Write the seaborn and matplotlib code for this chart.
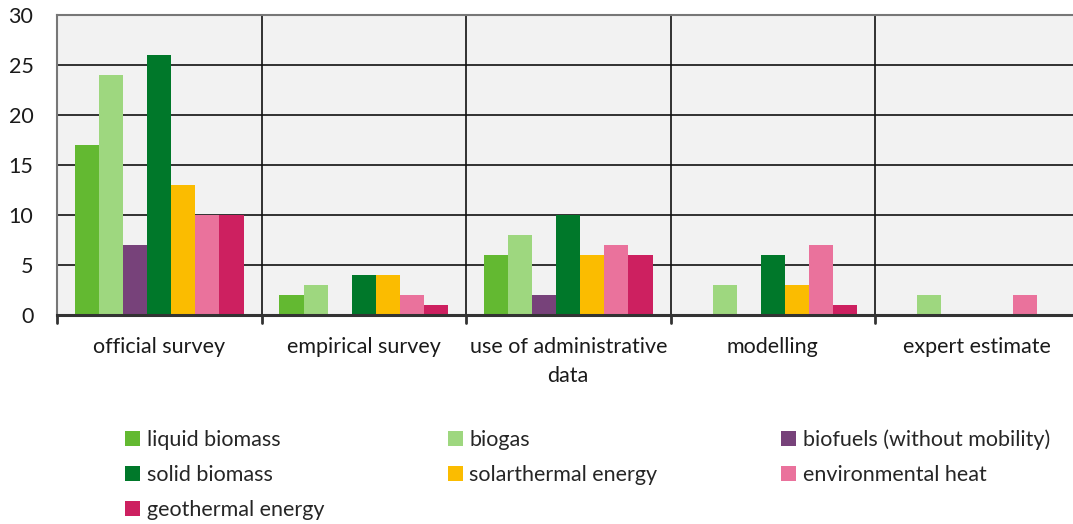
import matplotlib
matplotlib.use("Agg")
import matplotlib.pyplot as plt
import seaborn as sns
import pandas as pd
import numpy as np
from matplotlib.patches import Patch

categories = ["official survey", "empirical survey", "use of administrative\ndata", "modelling", "expert estimate"]
series = ["liquid biomass", "biogas", "biofuels (without mobility)", "solid biomass",
          "solarthermal energy", "environmental heat", "geothermal energy"]
liquid_biomass = [17, 2, 6, 0, 0]
biogas = [24, 3, 8, 3, 2]
biofuels = [7, 0, 2, 0, 0]
solid_biomass = [26, 4, 10, 6, 0]
solarthermal = [13, 4, 6, 3, 0]
environmental_heat = [10, 2, 7, 7, 2]
geothermal = [10, 1, 6, 1, 0]
colors = ["#63b931", "#9ed77f", "#77427a", "#00782a", "#fbbc00", "#ea729c", "#cd2060"]
yticks = [0, 5, 10, 15, 20, 25, 30]

values = [liquid_biomass, biogas, biofuels, solid_biomass, solarthermal, environmental_heat, geothermal]
rows = []
for s, vals in zip(series, values):
    for c, v in zip(categories, vals):
        rows.append({"category": c, "series": s, "value": v})
df = pd.DataFrame(rows)

sns.set_style("white")
plt.rcParams["font.family"] = ["Lato", "DejaVu Sans"]
FS = 15.5

fig = plt.figure(figsize=(10.73, 5.24), dpi=100)
ax = fig.add_axes([57 / 1073, 1 - 315 / 524, (1079.5 - 57) / 1073, 300 / 524])
ax.set_facecolor("#f2f2f2")

sns.barplot(data=df, x="category", y="value", hue="series", hue_order=series,
            order=categories, palette=colors, width=0.824, linewidth=0,
            saturation=1, ax=ax, legend=False, zorder=3)

ax.set_ylim(0, 30)
ax.set_xlim(-0.5, len(categories) - 0.5)
ax.set_yticks(yticks)
ax.set_yticklabels([str(t) for t in yticks], fontsize=FS, color="#1a1a1a")
ax.set_xticks(np.arange(len(categories)))
ax.set_xticklabels(categories, fontsize=FS, color="#1a1a1a", linespacing=1.55)
ax.set_xlabel("")
ax.set_ylabel("")

# horizontal gridlines
for t in yticks[1:]:
    ax.axhline(t, color="#111111", lw=1.2, zorder=1)
# category separators
for b in np.arange(0.5, len(categories) - 0.5, 1):
    ax.axvline(b, color="#111111", lw=1.2, zorder=1)
    ax.plot([b, b], [0, -0.025], transform=ax.get_xaxis_transform(), color="#333333",
            lw=2, clip_on=False)
ax.plot([-0.5, -0.5], [0, -0.025], transform=ax.get_xaxis_transform(), color="#333333",
        lw=2, clip_on=False)

ax.tick_params(axis="x", length=0, pad=16)
ax.tick_params(axis="y", length=0, pad=17)

for side in ["top", "left", "right"]:
    ax.spines[side].set_color("#777777")
    ax.spines[side].set_linewidth(1.5)
ax.spines["bottom"].set_color("#333333")
ax.spines["bottom"].set_linewidth(2.2)
ax.spines["bottom"].set_zorder(5)

order_idx = [0, 3, 6, 1, 4, 2, 5]
handles = [Patch(facecolor=colors[i], edgecolor="none") for i in order_idx]
labels = [series[i] for i in order_idx]
fig.legend(handles, labels, ncol=3, loc="upper left",
           bbox_to_anchor=(125 / 1073, 1 - 429 / 524), frameon=False,
           fontsize=FS, handlelength=0.7, handleheight=0.7, handletextpad=0.3,
           columnspacing=5.75, labelspacing=0.71, borderaxespad=0, borderpad=0)

fig.savefig("out.png", dpi=100)
